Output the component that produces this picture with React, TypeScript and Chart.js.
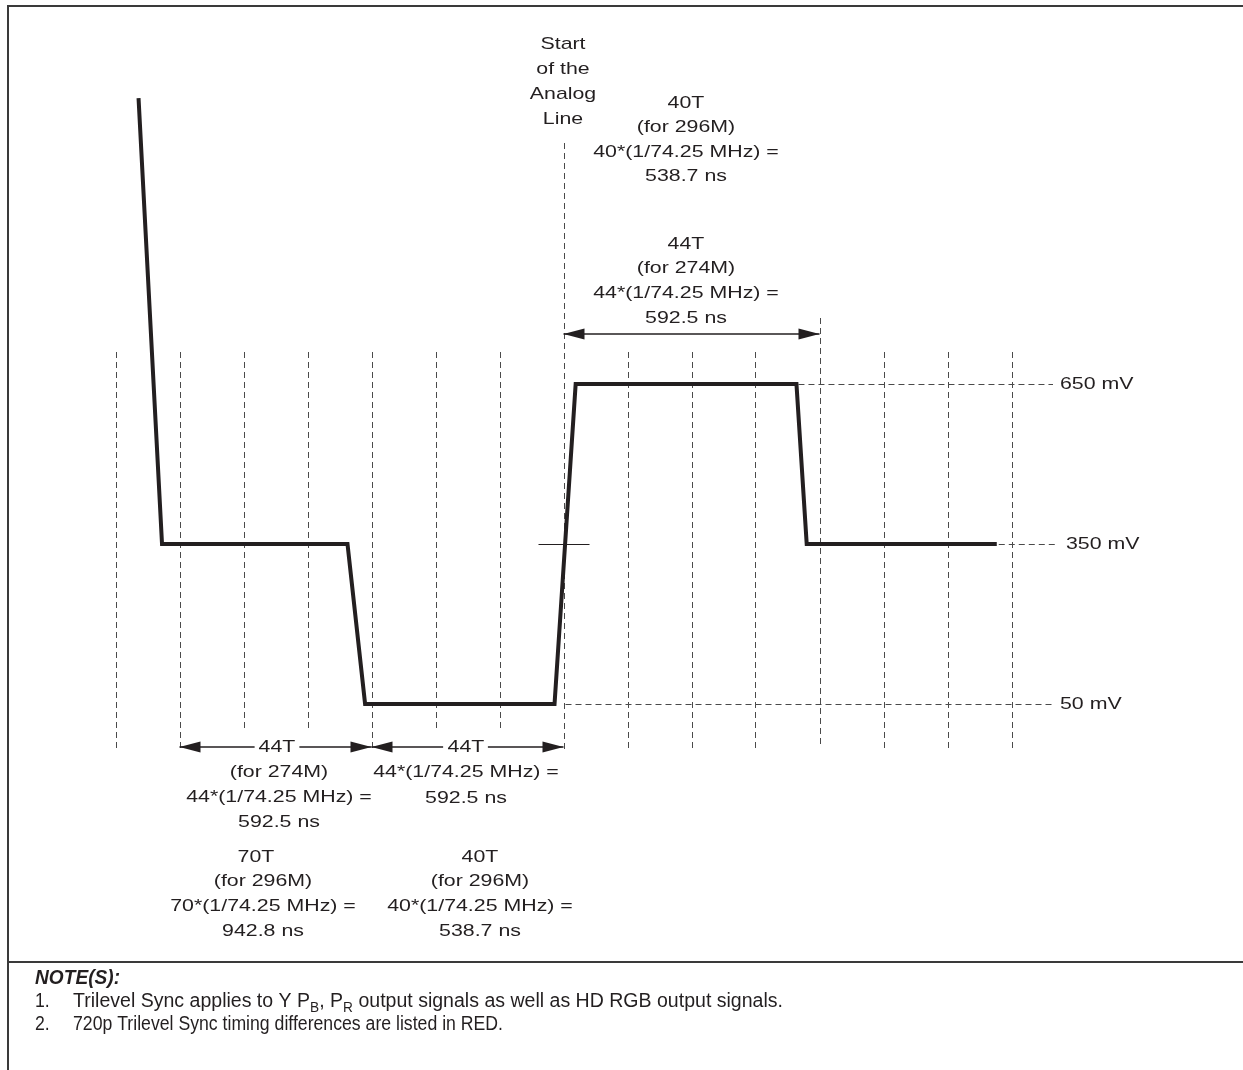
import React, { useEffect, useRef } from "react";
import { Chart, registerables } from "chart.js";

Chart.register(...registerables);

// ---------- data ----------
// waveform: x in grid divisions, y in mV
const WAVE_X = [0.36, 0.727, 3.625, 3.9, 6.86, 7.19, 10.64, 10.8, 13.77];
const WAVE_MV = [1186, 350, 350, 50, 50, 650, 650, 350, 350];

const LEVELS_MV = [650, 350, 50];
const LEVEL_LABELS = ["650 mV", "350 mV", "50 mV"];

const GRID_DIVISIONS = [0, 1, 2, 3, 4, 5, 6, 7, 8, 9, 10, 11, 12, 13, 14];
const ANALOG_START_DIV = 7;

const ANALOG_START_LABEL = ["Start", "of the", "Analog", "Line"];
const TOP_296 = ["40T", "(for 296M)", "40*(1/74.25 MHz) =", "538.7 ns"];
const TOP_274 = ["44T", "(for 274M)", "44*(1/74.25 MHz) =", "592.5 ns"];
const BOT_LEFT_274 = ["44T", "(for 274M)", "44*(1/74.25 MHz) =", "592.5 ns"];
const BOT_RIGHT_274 = ["44T", "44*(1/74.25 MHz) =", "592.5 ns"];
const BOT_LEFT_296 = ["70T", "(for 296M)", "70*(1/74.25 MHz) =", "942.8 ns"];
const BOT_RIGHT_296 = ["40T", "(for 296M)", "40*(1/74.25 MHz) =", "538.7 ns"];

const NOTES_TITLE = "NOTE(S):";
const NOTE_1 = [
  { t: "Trilevel Sync applies to Y P", sub: false },
  { t: "B", sub: true },
  { t: ", P", sub: false },
  { t: "R", sub: true },
  { t: " output signals as well as HD RGB output signals.", sub: false },
];
const NOTE_2 = "720p Trilevel Sync timing differences are listed in RED.";

// ---------- layout ----------
const W = 1243;
const H = 1070;
const X_MIN = -115.5 / 64;
const X_MAX = (W - 115.5) / 64;
const Y_MAX = 350 + 544 * 1.875;
const Y_MIN = 350 - (H - 544) * 1.875;

const INK = "#231f20";
const DASH = "#4a4a4a";
const FONT = '17px "Liberation Sans", Arial, sans-serif';
const SX = 1.255;

function dashed(ctx: CanvasRenderingContext2D, x1: number, y1: number, x2: number, y2: number) {
  ctx.save();
  ctx.strokeStyle = DASH;
  ctx.lineWidth = 1;
  ctx.setLineDash([6, 4]);
  ctx.beginPath();
  ctx.moveTo(x1, y1);
  ctx.lineTo(x2, y2);
  ctx.stroke();
  ctx.restore();
}

function txt(ctx: CanvasRenderingContext2D, s: string, cx: number, cy: number, align: CanvasTextAlign = "center") {
  ctx.save();
  ctx.font = FONT;
  ctx.fillStyle = INK;
  ctx.textAlign = align;
  ctx.textBaseline = "middle";
  ctx.translate(cx, cy);
  ctx.scale(SX, 1);
  ctx.fillText(s, 0, 0);
  ctx.restore();
}

function block(ctx: CanvasRenderingContext2D, lines: string[], cx: number, y0: number, step: number, dx: number[] = []) {
  lines.forEach((l, i) => txt(ctx, l, cx + (dx[i] || 0), y0 + i * step));
}

function textW(ctx: CanvasRenderingContext2D, s: string) {
  ctx.save();
  ctx.font = FONT;
  const w = ctx.measureText(s).width * SX;
  ctx.restore();
  return w;
}

function arrowHead(ctx: CanvasRenderingContext2D, x: number, y: number, dir: number) {
  const L = 21;
  const hw = 5.5;
  ctx.beginPath();
  ctx.moveTo(x, y);
  ctx.lineTo(x - dir * L, y - hw);
  ctx.lineTo(x - dir * L, y + hw);
  ctx.closePath();
  ctx.fill();
}

function dimArrow(ctx: CanvasRenderingContext2D, x1: number, x2: number, y: number, gapC?: number, gapW?: number) {
  ctx.save();
  ctx.strokeStyle = INK;
  ctx.fillStyle = INK;
  ctx.lineWidth = 1.3;
  ctx.beginPath();
  if (gapC !== undefined && gapW !== undefined) {
    ctx.moveTo(x1, y);
    ctx.lineTo(gapC - gapW / 2, y);
    ctx.moveTo(gapC + gapW / 2, y);
    ctx.lineTo(x2, y);
  } else {
    ctx.moveTo(x1, y);
    ctx.lineTo(x2, y);
  }
  ctx.stroke();
  arrowHead(ctx, x1, y, -1);
  arrowHead(ctx, x2, y, 1);
  ctx.restore();
}

const diagramPlugin = {
  id: "diagram",
  beforeDatasetsDraw(chart: any) {
    const ctx: CanvasRenderingContext2D = chart.ctx;
    const xs = chart.scales.x;
    const ys = chart.scales.y;
    ctx.save();
    // frame
    ctx.strokeStyle = "#3a3a3a";
    ctx.lineWidth = 2;
    ctx.beginPath();
    ctx.moveTo(8, H);
    ctx.lineTo(8, 6);
    ctx.lineTo(W, 6);
    ctx.moveTo(8, 962);
    ctx.lineTo(W, 962);
    ctx.stroke();

    // vertical grid
    GRID_DIVISIONS.forEach((d) => {
      const x = Math.round(xs.getPixelForValue(d)) + 0.5;
      let top = 352;
      let bottom = 751;
      if (d === ANALOG_START_DIV) top = 143;
      if (d === ANALOG_START_DIV + 4) {
        top = 318;
        bottom = 748;
      }
      if (d === 2 || d === 3 || d === 5 || d === 6) bottom = 731;
      dashed(ctx, x, top, x, bottom);
    });

    // level lines
    const starts = [WAVE_X[6], WAVE_X[8], ANALOG_START_DIV];
    const ends = [1053, 1055, 1053];
    LEVELS_MV.forEach((mv, i) => {
      const y = Math.round(ys.getPixelForValue(mv)) + 0.5;
      dashed(ctx, xs.getPixelForValue(starts[i]) + 2, y, ends[i], y);
    });
    ctx.restore();
  },
  afterDatasetsDraw(chart: any) {
    const ctx: CanvasRenderingContext2D = chart.ctx;
    const xs = chart.scales.x;
    const ys = chart.scales.y;
    ctx.save();

    // level labels
    const labelX = [1060, 1066, 1060];
    LEVELS_MV.forEach((mv, i) => {
      txt(ctx, LEVEL_LABELS[i], labelX[i], ys.getPixelForValue(mv), "left");
    });

    // crossing tick at 350 mV on rising edge
    const xa = xs.getPixelForValue(ANALOG_START_DIV);
    const y350 = Math.round(ys.getPixelForValue(350)) + 0.5;
    ctx.strokeStyle = INK;
    ctx.lineWidth = 1;
    ctx.beginPath();
    ctx.moveTo(xa - 25, y350);
    ctx.lineTo(xa + 26, y350);
    ctx.stroke();

    // arrows
    dimArrow(ctx, xa, xs.getPixelForValue(ANALOG_START_DIV + 4), 334);
    const bl = xs.getPixelForValue(1);
    const bm = xs.getPixelForValue(4);
    const c1 = 277;
    const c2 = 465.5;
    dimArrow(ctx, bl, bm, 747, c1, textW(ctx, BOT_LEFT_274[0]) + 8);
    dimArrow(ctx, bm, xa, 747, c2, textW(ctx, BOT_RIGHT_274[0]) + 8);

    // text blocks
    block(ctx, ANALOG_START_LABEL, 563, 44, 25);
    block(ctx, TOP_296, 686, 103, 24.5);
    block(ctx, TOP_274, 686, 244, 24.7);
    block(ctx, BOT_LEFT_274, 279, 747, 25, [-2]);
    block(ctx, BOT_RIGHT_274, 466, 747, 25.5);
    block(ctx, BOT_LEFT_296, 263, 857, 24.7, [-7]);
    block(ctx, BOT_RIGHT_296, 480, 857, 24.7);

    // notes
    ctx.fillStyle = INK;
    ctx.textBaseline = "alphabetic";
    ctx.textAlign = "left";
    const nf = '20px "Liberation Sans Narrow", "Liberation Sans", Arial, sans-serif';
    const nfSub = '14px "Liberation Sans Narrow", "Liberation Sans", Arial, sans-serif';
    ctx.font = 'italic bold 20px "Liberation Sans Narrow", "Liberation Sans", Arial, sans-serif';
    const tW = ctx.measureText(NOTES_TITLE).width;
    ctx.save();
    ctx.translate(35, 984);
    ctx.scale(85 / tW, 1);
    ctx.fillText(NOTES_TITLE, 0, 0);
    ctx.restore();

    ctx.font = nf;
    const l2w = ctx.measureText(NOTE_2).width;
    const nsx2 = 430 / l2w;
    let l1w = 0;
    NOTE_1.forEach((r) => {
      ctx.font = r.sub ? nfSub : nf;
      l1w += ctx.measureText(r.t).width;
    });
    const nsx1 = 710 / l1w;
    const drawNum = (s: string, y: number, sx: number) => {
      ctx.save();
      ctx.font = nf;
      ctx.translate(35, y);
      ctx.scale(sx, 1);
      ctx.fillText(s, 0, 0);
      ctx.restore();
    };
    drawNum("1.", 1007, nsx2);
    drawNum("2.", 1030, nsx2);
    ctx.save();
    ctx.translate(73, 1030);
    ctx.scale(nsx2, 1);
    ctx.font = nf;
    ctx.fillText(NOTE_2, 0, 0);
    ctx.restore();

    ctx.save();
    ctx.translate(73, 1007);
    ctx.scale(nsx1, 1);
    let cx = 0;
    NOTE_1.forEach((r) => {
      ctx.font = r.sub ? nfSub : nf;
      ctx.fillText(r.t, cx, r.sub ? 5 : 0);
      cx += ctx.measureText(r.t).width;
    });
    ctx.restore();

    ctx.restore();
  },
};

export default function App() {
  const ref = useRef<HTMLCanvasElement>(null);
  useEffect(() => {
    if (!ref.current) return;
    const chart = new Chart(ref.current, {
      type: "scatter",
      data: {
        datasets: [
          {
            data: WAVE_X.map((x, i) => ({ x, y: WAVE_MV[i] })),
            showLine: true,
            borderColor: INK,
            backgroundColor: INK,
            borderWidth: 4,
            pointRadius: 0,
            pointHoverRadius: 0,
            tension: 0,
            fill: false,
            borderJoinStyle: "miter",
            borderCapStyle: "butt",
          } as any,
        ],
      },
      options: {
        responsive: false,
        maintainAspectRatio: false,
        animation: false,
        devicePixelRatio: 1,
        events: [],
        layout: { padding: 0 },
        plugins: { legend: { display: false }, tooltip: { enabled: false } },
        scales: {
          x: { type: "linear", display: false, min: X_MIN, max: X_MAX },
          y: { type: "linear", display: false, min: Y_MIN, max: Y_MAX },
        },
      },
      plugins: [diagramPlugin],
    });
    return () => chart.destroy();
  }, []);
  return (
    <div style={{ position: "absolute", left: 0, top: 0, width: W, height: H, background: "#fff" }}>
      <canvas ref={ref} width={W} height={H} style={{ display: "block" }} />
    </div>
  );
}
